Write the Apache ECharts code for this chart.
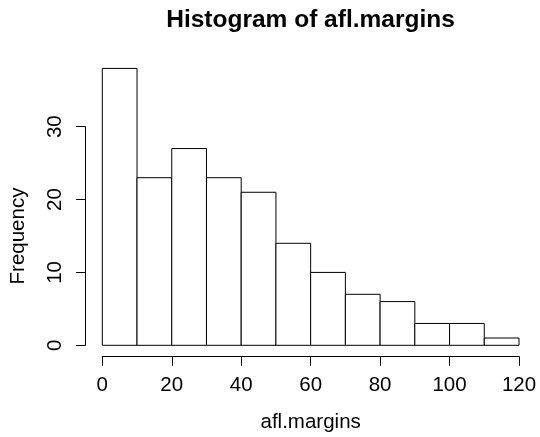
<!DOCTYPE html>
<html>
<head>
<meta charset="utf-8">
<script src="https://cdn.jsdelivr.net/npm/echarts@6/dist/echarts.min.js"></script>
<style>
html,body{margin:0;padding:0;background:#fff;}
#chart{width:540px;height:437px;}
</style>
</head>
<body>
<div id="chart"></div>
<script>
// Histogram bin edges and counts
const breaks = [0, 10, 20, 30, 40, 50, 60, 70, 80, 90, 100, 110, 120];
const counts = [38, 23, 27, 23, 21, 14, 10, 7, 6, 3, 3, 1];
const xTicks = [0, 20, 40, 60, 80, 100, 120];
const yTicks = [0, 10, 20, 30];
const titleText = 'Histogram of afl.margins';
const xName = 'afl.margins';
const yName = 'Frequency';

const FONT = 'Liberation Sans, Arial, Helvetica, sans-serif';
const bins = counts.map((c, i) => [breaks[i], breaks[i + 1], c]);

const chart = echarts.init(document.getElementById('chart'), null, {renderer: 'canvas'});
chart.setOption({
  animation: false,
  backgroundColor: '#ffffff',
  title: {
    text: titleText,
    left: 310.5,
    top: 8,
    padding: 0,
    textAlign: 'center',
    textStyle: {fontFamily: FONT, fontSize: 24.5, fontWeight: 'bold', color: '#000'}
  },
  grid: {
    left: 102.3,
    width: 416.7,
    top: 126.7,
    height: 218.6,
    containLabel: false,
    outerBoundsMode: 'none'
  },
  xAxis: {
    type: 'value',
    min: breaks[0],
    max: breaks[breaks.length - 1],
    interval: 20,
    offset: 11,
    splitLine: {show: false},
    axisLine: {show: true, onZero: false, lineStyle: {color: '#000', width: 1}},
    axisTick: {show: true, length: 9.5, lineStyle: {color: '#000', width: 1}, customValues: xTicks},
    axisLabel: {show: true, margin: 18.5, color: '#000', fontFamily: FONT, fontSize: 20.5, customValues: xTicks},
    name: xName,
    nameLocation: 'middle',
    nameGap: 56,
    nameMoveOverlap: false,
    nameTextStyle: {fontFamily: FONT, fontSize: 20.5, color: '#000'}
  },
  yAxis: {
    type: 'value',
    min: yTicks[0],
    max: yTicks[yTicks.length - 1],
    interval: 10,
    offset: 16.7,
    splitLine: {show: false},
    axisLine: {show: true, onZero: false, lineStyle: {color: '#000', width: 1}},
    axisTick: {show: true, length: 9.5, lineStyle: {color: '#000', width: 1}},
    axisLabel: {show: true, rotate: 90, margin: 19.5, color: '#000', fontFamily: FONT, fontSize: 20.5},
    name: yName,
    nameLocation: 'middle',
    nameGap: 57,
    nameMoveOverlap: false,
    nameTextStyle: {fontFamily: FONT, fontSize: 20.5, color: '#000'}
  },
  series: [{
    type: 'custom',
    clip: false,
    data: bins,
    encode: {x: [0, 1], y: 2},
    renderItem: function (params, api) {
      const topLeft = api.coord([api.value(0), api.value(2)]);
      const bottomRight = api.coord([api.value(1), 0]);
      return {
        type: 'rect',
        shape: {
          x: topLeft[0],
          y: topLeft[1],
          width: bottomRight[0] - topLeft[0],
          height: bottomRight[1] - topLeft[1]
        },
        style: {fill: '#ffffff', stroke: '#000000', lineWidth: 1}
      };
    }
  }]
});
</script>
</body>
</html>
